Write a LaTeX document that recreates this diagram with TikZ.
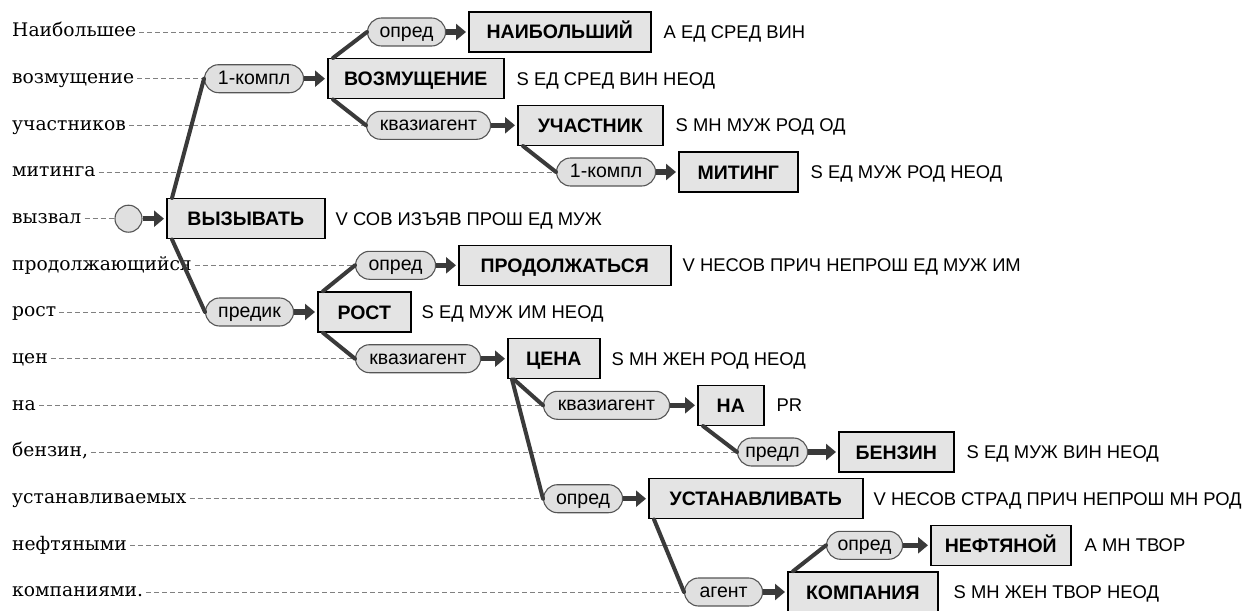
\documentclass[tikz,border=0pt]{standalone}
\usepackage{fontspec}
\setmainfont{Liberation Sans}
\newfontfamily\wordfont{DejaVu Serif}
\usetikzlibrary{arrows.meta}
\definecolor{boxfill}{HTML}{E4E4E4}
\definecolor{pillfill}{HTML}{E0E0E0}
\definecolor{linkcol}{HTML}{3A3A3A}
\definecolor{dashcol}{HTML}{808080}
\definecolor{pillline}{HTML}{555555}
\tikzset{
  word/.style={anchor=west, inner xsep=3pt, inner ysep=0pt, text height=9.6pt, text depth=0pt,
               font=\wordfont\fontsize{18.7}{21}\selectfont},
  wbox/.style={anchor=west, draw=black, line width=1.5pt, fill=boxfill, minimum height=40pt, inner sep=0pt,
               text height=14pt, text depth=0pt, font=\fontsize{19.5}{22}\selectfont\bfseries},
  pill/.style={anchor=west, draw=pillline, line width=1.1pt, fill=pillfill, rounded corners=14pt,
               minimum height=28pt, inner sep=0pt, text height=11pt, text depth=0pt,
               font=\fontsize{19.5}{22}\selectfont},
  tag/.style={anchor=west, inner sep=0pt, text height=13.2pt, text depth=0pt,
              font=\fontsize{18.4}{21}\selectfont},
  link/.style={draw=linkcol, line width=4pt, line cap=round},
  arr/.style={draw=linkcol, line width=5.5pt, -{Triangle[length=10pt,width=16pt]}, shorten >=2pt},
  guide/.style={draw=dashcol, line width=0.8pt, dash pattern=on 5pt off 3pt},
  root/.style={circle, draw=pillline, line width=1.1pt, fill=pillfill, minimum size=27pt, inner sep=0pt}
}
\begin{document}
\begin{tikzpicture}[x=1pt,y=-1pt]
\useasboundingbox (0,0) rectangle (1249,610);
% words
\node[word] (w0) at (9,32) {Наибольшее};
\node[word] (w1) at (9,78.7) {возмущение};
\node[word] (w2) at (9,125.3) {участников};
\node[word] (w3) at (9,172) {митинга};
\node[word] (w4) at (9,218.7) {вызвал};
\node[word] (w5) at (9,265.3) {продолжающийся};
\node[word] (w6) at (9,312) {рост};
\node[word] (w7) at (9,358.7) {цен};
\node[word] (w8) at (9,405.3) {на};
\node[word] (w9) at (9,452) {бензин,};
\node[word] (w10) at (9,498.7) {устанавливаемых};
\node[word] (w11) at (9,545.3) {нефтяными};
\node[word] (w12) at (9,592) {компаниями.};
% pills
\node[pill, minimum width=78pt] (p0) at (367,32) {опред};
\node[pill, minimum width=99pt] (p1) at (204,78.7) {1-компл};
\node[pill, minimum width=124pt] (p2) at (366,125.3) {квазиагент};
\node[pill, minimum width=99pt] (p3) at (556,172) {1-компл};
\node[root] (c4) at (128.5,218.7) {};
\node[pill, minimum width=80pt] (p5) at (355,265.3) {опред};
\node[pill, minimum width=88pt] (p6) at (205,312) {предик};
\node[pill, minimum width=125pt] (p7) at (355,358.7) {квазиагент};
\node[pill, minimum width=126pt] (p8) at (543,405.3) {квазиагент};
\node[pill, minimum width=70pt] (p9) at (737,452) {предл};
\node[pill, minimum width=79pt] (p10) at (543,498.7) {опред};
\node[pill, minimum width=76pt] (p11) at (826,545.3) {опред};
\node[pill, minimum width=78pt] (p12) at (684,592) {агент};
% boxes
\node[wbox, minimum width=182pt] (b0) at (468,32) {НАИБОЛЬШИЙ};
\node[wbox, minimum width=176pt] (b1) at (327,78.7) {ВОЗМУЩЕНИЕ};
\node[wbox, minimum width=145pt] (b2) at (517,125.3) {УЧАСТНИК};
\node[wbox, minimum width=119pt] (b3) at (678,172) {МИТИНГ};
\node[wbox, minimum width=158pt] (b4) at (166,218.7) {ВЫЗЫВАТЬ};
\node[wbox, minimum width=212pt] (b5) at (458,265.3) {ПРОДОЛЖАТЬСЯ};
\node[wbox, minimum width=93pt] (b6) at (317,312) {РОСТ};
\node[wbox, minimum width=92pt] (b7) at (507,358.7) {ЦЕНА};
\node[wbox, minimum width=66pt] (b8) at (697,405.3) {НА};
\node[wbox, minimum width=115pt] (b9) at (838,452) {БЕНЗИН};
\node[wbox, minimum width=214pt] (b10) at (648,498.7) {УСТАНАВЛИВАТЬ};
\node[wbox, minimum width=140pt] (b11) at (930,545.3) {НЕФТЯНОЙ};
\node[wbox, minimum width=150pt] (b12) at (787,592) {КОМПАНИЯ};
% tags
\node[tag] (t0) at ([xshift=12pt]b0.east) {А ЕД СРЕД ВИН};
\node[tag] (t1) at ([xshift=12pt]b1.east) {S ЕД СРЕД ВИН НЕОД};
\node[tag] (t2) at ([xshift=12pt]b2.east) {S МН МУЖ РОД ОД};
\node[tag] (t3) at ([xshift=12pt]b3.east) {S ЕД МУЖ РОД НЕОД};
\node[tag] (t4) at ([xshift=10pt]b4.east) {V СОВ ИЗЪЯВ ПРОШ ЕД МУЖ};
\node[tag] (t5) at ([xshift=11pt]b5.east) {V НЕСОВ ПРИЧ НЕПРОШ ЕД МУЖ ИМ};
\node[tag] (t6) at ([xshift=10pt]b6.east) {S ЕД МУЖ ИМ НЕОД};
\node[tag] (t7) at ([xshift=11pt]b7.east) {S МН ЖЕН РОД НЕОД};
\node[tag] (t8) at ([xshift=12pt]b8.east) {PR};
\node[tag] (t9) at ([xshift=12pt]b9.east) {S ЕД МУЖ ВИН НЕОД};
\node[tag] (t10) at ([xshift=10pt]b10.east) {V НЕСОВ СТРАД ПРИЧ НЕПРОШ МН РОД};
\node[tag] (t11) at ([xshift=13pt]b11.east) {А МН ТВОР};
\node[tag] (t12) at ([xshift=15pt]b12.east) {S МН ЖЕН ТВОР НЕОД};
% dashed guides
\foreach \i in {0,1,2,3,5,6,7,8,9,10,11,12} {\draw[guide] (w\i.east) -- (p\i.west);}
\draw[guide] (w4.east) -- (c4.west);
% arrows pill -> box
\foreach \i in {0,1,2,3,5,6,7,8,9,10,11,12} {\draw[arr] (p\i.east) -- (b\i.west);}
\draw[arr] (c4.east) -- (b4.west);
% tree links
\draw[link] ([xshift=6pt]b4.north west) -- (p1.west);
\draw[link] ([xshift=6pt]b4.south west) -- (p6.west);
\draw[link] ([xshift=6pt]b1.north west) -- (p0.west);
\draw[link] ([xshift=6pt]b1.south west) -- (p2.west);
\draw[link] ([xshift=6pt]b2.south west) -- (p3.west);
\draw[link] ([xshift=6pt]b6.north west) -- (p5.west);
\draw[link] ([xshift=6pt]b6.south west) -- (p7.west);
\draw[link] ([xshift=7pt]b7.south west) -- (p8.west);
\draw[link] ([xshift=5pt]b7.south west) -- (p10.west);
\draw[link] ([xshift=6pt]b8.south west) -- (p9.west);
\draw[link] ([xshift=6pt]b10.south west) -- (p12.west);
\draw[link] ([xshift=6pt]b12.north west) -- (p11.west);
\end{tikzpicture}
\end{document}
